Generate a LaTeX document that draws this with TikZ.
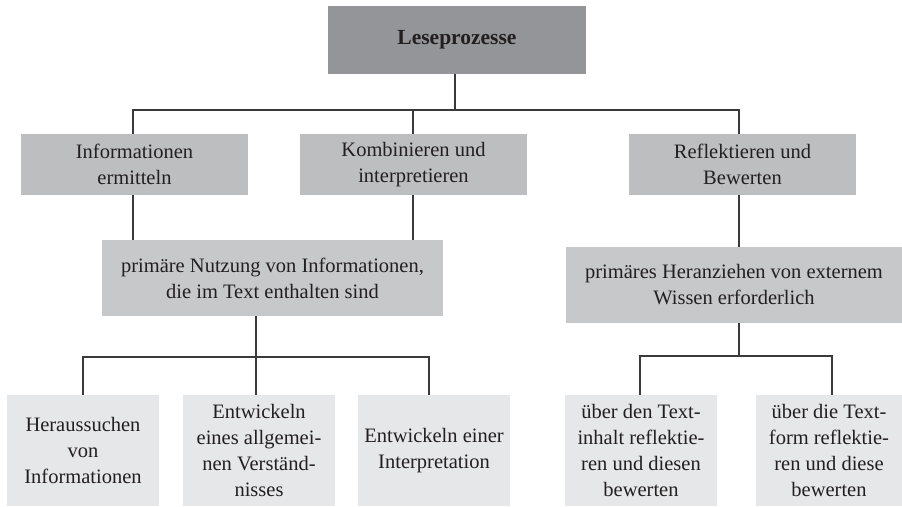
\documentclass[tikz,border=0pt]{standalone}
\usepackage{fontspec}
\setmainfont{Liberation Serif}
\definecolor{boxtop}{HTML}{939598}
\definecolor{boxmid}{HTML}{BDBEC0}
\definecolor{boxprim}{HTML}{C7C8CA}
\definecolor{boxlow}{HTML}{E6E7E8}
\definecolor{ink}{HTML}{231F20}
\definecolor{wire}{HTML}{3A3A3C}
\tikzset{
  base/.style={inner sep=0pt, align=center, text=ink, font=\fontsize{20.5}{26}\selectfont},
  topbox/.style={base, fill=boxtop, minimum width=258pt, minimum height=68pt, font=\fontsize{21.5}{26}\selectfont\bfseries},
  midbox/.style={base, fill=boxmid, minimum width=227pt, minimum height=61pt},
  primbox/.style={base, fill=boxprim, minimum height=76pt},
  lowbox/.style={base, fill=boxlow, minimum height=111pt},
  wireline/.style={draw=wire, line width=1.2pt}
}
\begin{document}
\begin{tikzpicture}[x=1pt, y=-1pt]
\useasboundingbox (0,0) rectangle (902,506);
% nodes
\node[topbox] (top) at (457,40) {Leseprozesse};
\node[midbox] (ma) at (134.5,164.5) {Informationen\\ermitteln};
\node[midbox] (mb) at (413.5,164.5) {Kombinieren und\\interpretieren};
\node[midbox] (mc) at (742.5,164.5) {Reflektieren und\\Bewerten};
\node[primbox, minimum width=341pt] (pa) at (272.5,278) {primäre Nutzung von Informationen,\\die im Text enthalten sind};
\node[primbox, minimum width=336pt] (pb) at (734,285) {primäres Heranziehen von externem\\Wissen erforderlich};
\node[lowbox, minimum width=152pt] (la) at (83,450.5) {Heraussuchen\\von\\Informationen};
\node[lowbox, minimum width=152pt] (lb) at (259,450.5) {Entwickeln\\eines allgemei-\\nen Verständ-\\nisses};
\node[lowbox, minimum width=152pt] (lc) at (434,450.5) {Entwickeln einer\\Interpretation};
\node[lowbox, minimum width=152pt] (ld) at (641,450.5) {über den Text-\\inhalt reflektie-\\ren und diesen\\bewerten};
\node[lowbox, minimum width=146pt] (le) at (829,450.5) {über die Text-\\form reflektie-\\ren und diese\\bewerten};
% bus points
\coordinate (busa) at (455,110);
\coordinate (busb) at (256,357);
\coordinate (busc) at (739,356);
% connectors
\draw[wireline] (busa |- top.south) -- (busa);
\draw[wireline] ([xshift=-1.5pt]ma.north) |- (busa);
\draw[wireline] ([xshift=-0.5pt]mb.north) |- (busa);
\draw[wireline] ([xshift=-3.5pt]mc.north) |- (busa);
\draw[wireline] ([xshift=-1.5pt]ma.south) -- ([xshift=-1.5pt]ma.south |- pa.north);
\draw[wireline] ([xshift=-0.5pt]mb.south) -- ([xshift=-0.5pt]mb.south |- pa.north);
\draw[wireline] ([xshift=-3.5pt]mc.south) -- ([xshift=-3.5pt]mc.south |- pb.north);
\draw[wireline] (busb |- pa.south) -- (busb);
\draw[wireline] (la.north) |- (busb);
\draw[wireline] ([xshift=-3pt]lb.north) |- (busb);
\draw[wireline] ([xshift=-5pt]lc.north) |- (busb);
\draw[wireline] (busc |- pb.south) -- (busc);
\draw[wireline] ([xshift=-1pt]ld.north) |- (busc);
\draw[wireline] ([xshift=3pt]le.north) |- (busc);
\end{tikzpicture}
\end{document}
